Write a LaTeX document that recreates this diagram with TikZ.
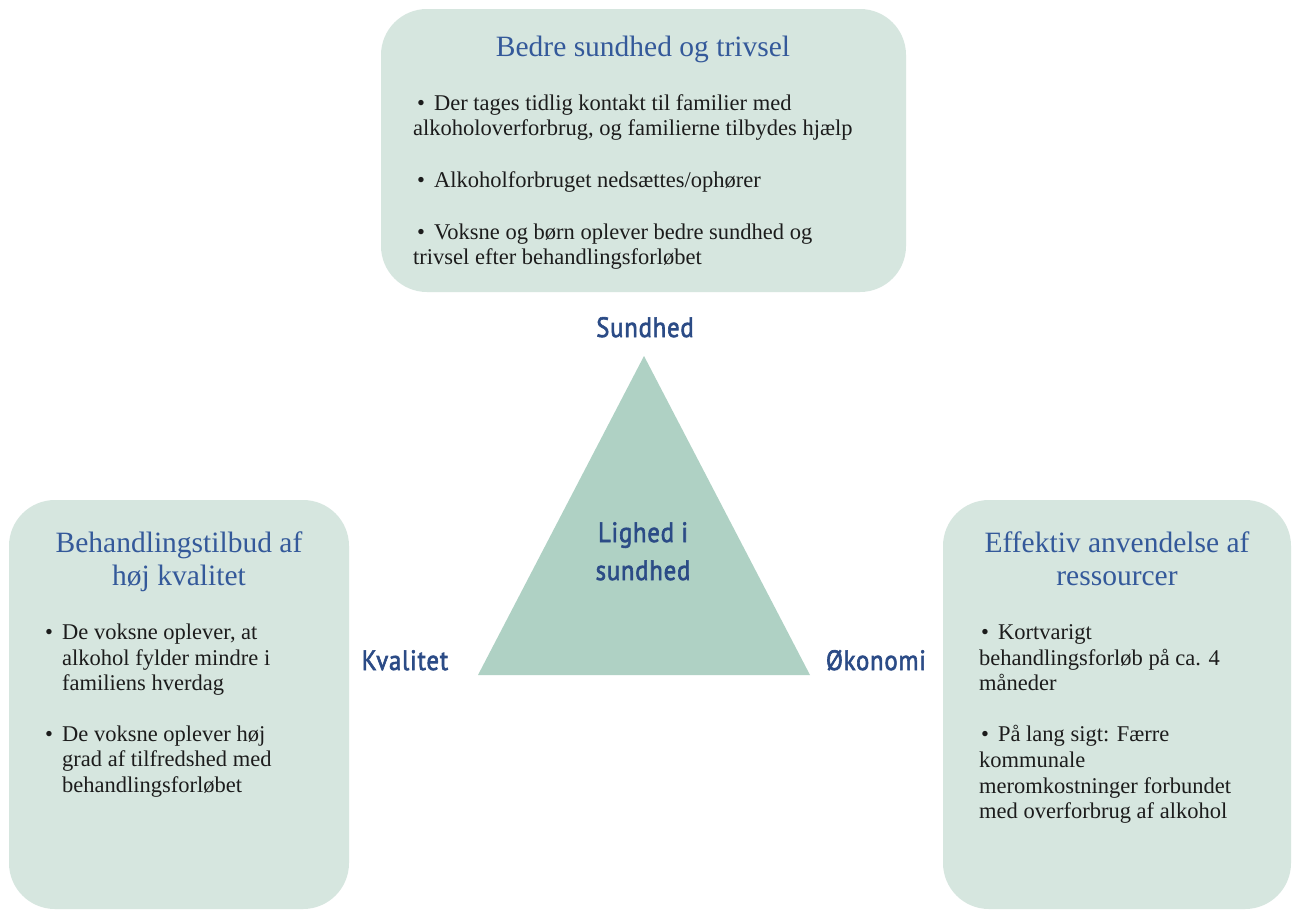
\documentclass[tikz,border=0pt]{standalone}
\usepackage{fontspec}
\setmainfont{Liberation Serif}
\newfontfamily\lblfont[FakeStretch=0.88,LetterSpace=3,FakeBold=2.2]{PT Sans}
\definecolor{boxfill}{HTML}{D6E6DF}
\definecolor{trifill}{HTML}{AFD1C4}
\definecolor{titleblue}{HTML}{34599A}
\definecolor{lblblue}{HTML}{2B4B86}
\definecolor{bodytext}{HTML}{1C1C1C}
\tikzset{
  panel/.style={fill=boxfill, rounded corners=46pt},
  ttl/.style={anchor=base, inner sep=0pt, text=titleblue, font=\fontsize{29.5}{33}\selectfont},
  ln/.style={anchor=base west, inner sep=0pt, text=bodytext, font=\fontsize{22.5}{25.5}\selectfont},
  lbl/.style={anchor=base, inner sep=0pt, text=lblblue, font=\lblfont\fontsize{28}{33}\selectfont}
}
\begin{document}
\begin{tikzpicture}[x=1pt,y=-1pt]
\useasboundingbox (0,0) rectangle (1292,910);
\fill[white] (0,0) rectangle (1292,910);
% panels
\path[panel] (381,9) rectangle (906,292);
\path[panel] (9,500) rectangle (349,909);
\path[panel] (943,500) rectangle (1291,909);
% triangle
\coordinate (apex) at (644,356);
\coordinate (bl) at (478,675);
\coordinate (br) at (810,675);
\fill[trifill] (apex) -- (br) -- (bl) -- cycle;
% labels
\node[lbl] (sund) at (645,337) {Sundhed};
\node[lbl] (kval) at (405,670) {Kvalitet};
\node[lbl] (okon) at (876,670) {Økonomi};
\node[lbl] (lig1) at (643,542) {Lighed i};
\node[lbl] (lig2) at (643,580) {sundhed};
% top panel
\node[ttl] (t0) at (643,56) {Bedre sundhed og trivsel};
\node[ln] (t1) at (413,110) {\hspace*{4pt}\textbullet\hspace{9pt}Der tages tidlig kontakt til familier med};
\node[ln] (t2) at (413,135) {alkoholoverforbrug, og familierne tilbydes hjælp};
\node[ln] (t3) at (413,187) {\hspace*{4pt}\textbullet\hspace{9pt}Alkoholforbruget nedsættes/ophører};
\node[ln] (t4) at (413,239) {\hspace*{4pt}\textbullet\hspace{9pt}Voksne og børn oplever bedre sundhed og};
\node[ln] (t5) at (413,264) {trivsel efter behandlingsforløbet};
% left panel
\node[ttl] (l0) at (179,552) {Behandlingstilbud af};
\node[ttl] (l0b) at (179,585) {høj kvalitet};
\node[ln] (lb1) at (45,639) {\textbullet};
\node[ln] (l1) at (62,639) {De voksne oplever, at};
\node[ln] (l2) at (62,665) {alkohol fylder mindre i};
\node[ln] (l3) at (62,690) {familiens hverdag};
\node[ln] (lb2) at (45,741) {\textbullet};
\node[ln] (l4) at (62,741) {De voksne oplever høj};
\node[ln] (l5) at (62,766) {grad af tilfredshed med};
\node[ln] (l6) at (62,792) {behandlingsforløbet};
% right panel
\node[ttl] (r0) at (1117,552) {Effektiv anvendelse af};
\node[ttl] (r0b) at (1117,585) {ressourcer};
\node[ln] (r1) at (979,639) {\hspace*{2pt}\textbullet\hspace{9pt}Kortvarigt};
\node[ln] (r2) at (979,665) {behandlingsforløb på ca. 4};
\node[ln] (r3) at (979,690) {måneder};
\node[ln] (r4) at (979,741) {\hspace*{2pt}\textbullet\hspace{9pt}På lang sigt: Færre};
\node[ln] (r5) at (979,767) {kommunale};
\node[ln] (r6) at (979,793) {meromkostninger forbundet};
\node[ln] (r7) at (979,818) {med overforbrug af alkohol};
\end{tikzpicture}
\end{document}
